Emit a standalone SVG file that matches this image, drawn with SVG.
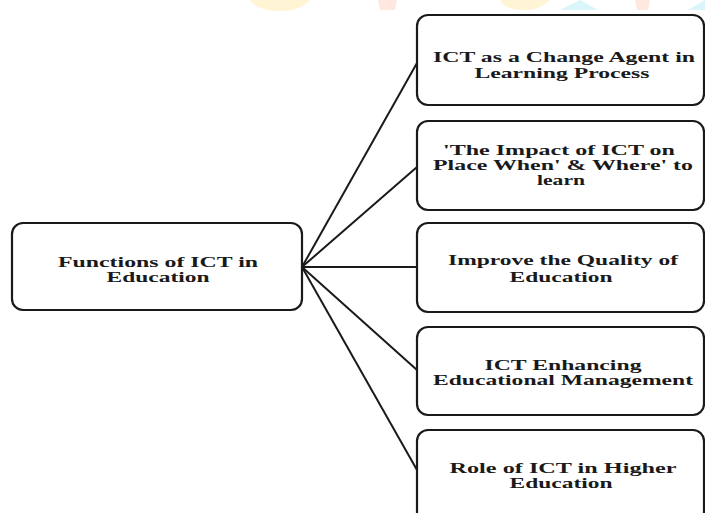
<svg xmlns="http://www.w3.org/2000/svg" width="705" height="513" viewBox="0 0 705 513">
<style>
.box{fill:#fff;stroke:#1a1a1a;stroke-width:2.2}
.t{font-family:"Liberation Serif","Times New Roman",serif;font-weight:bold;font-size:15px;fill:#1a1a1a;text-anchor:middle}
.c{stroke:#1a1a1a;stroke-width:2;fill:none}
</style>
<rect width="705" height="513" fill="#fff"/>
<g id="watermark" opacity="0.9">
<path d="M250 0 H310 Q300 11 280 11 Q258 11 250 0 Z" fill="#fff3cf"/>
<path d="M378 0 H397 L395 10 H380 Z" fill="#ffe6dc"/>
<path d="M500 0 H550 Q540 10 525 10 Q505 10 500 0 Z" fill="#fff3cf"/>
<path d="M560 10 L580 0 L598 10 Z" fill="#d8f6fa"/>
<path d="M635 0 H650 L648 10 H637 Z" fill="#ffe6dc"/>
<path d="M688 10 L705 0 V10 Z" fill="#d8f6fa"/>
</g>
<g id="connectors">
<line class="c" x1="302" y1="267" x2="417" y2="63"/>
<line class="c" x1="302" y1="267" x2="417" y2="167"/>
<line class="c" x1="302" y1="267" x2="417" y2="267"/>
<line class="c" x1="302" y1="267" x2="417" y2="370"/>
<line class="c" x1="302" y1="267" x2="417" y2="470"/>
</g>
<g id="center">
<rect class="box" x="12" y="223" width="290" height="87" rx="11"/>
<text class="t" x="158" y="267" textLength="200" lengthAdjust="spacingAndGlyphs">Functions of ICT in</text>
<text class="t" x="158" y="282" textLength="103" lengthAdjust="spacingAndGlyphs">Education</text>
</g>
<g id="n1">
<rect class="box" x="417" y="15" width="287" height="90" rx="11"/>
<text class="t" x="564" y="62" textLength="262" lengthAdjust="spacingAndGlyphs">ICT as a Change Agent in</text>
<text class="t" x="562" y="78" textLength="175" lengthAdjust="spacingAndGlyphs">Learning Process</text>
</g>
<g id="n2">
<rect class="box" x="417" y="121" width="287" height="89" rx="11"/>
<text class="t" x="559" y="155" textLength="232" lengthAdjust="spacingAndGlyphs">'The Impact of ICT on</text>
<text class="t" x="563" y="170" textLength="260" lengthAdjust="spacingAndGlyphs">Place When' &amp; Where' to</text>
<text class="t" x="561" y="185" textLength="48" lengthAdjust="spacingAndGlyphs">learn</text>
</g>
<g id="n3">
<rect class="box" x="417" y="223" width="287" height="89" rx="11"/>
<text class="t" x="563" y="265" textLength="230" lengthAdjust="spacingAndGlyphs">Improve the Quality of</text>
<text class="t" x="561" y="282" textLength="103" lengthAdjust="spacingAndGlyphs">Education</text>
</g>
<g id="n4">
<rect class="box" x="417" y="327" width="287" height="88" rx="11"/>
<text class="t" x="563" y="370" textLength="157" lengthAdjust="spacingAndGlyphs">ICT Enhancing</text>
<text class="t" x="563" y="385" textLength="260" lengthAdjust="spacingAndGlyphs">Educational Management</text>
</g>
<g id="n5">
<rect class="box" x="417" y="430" width="287" height="95" rx="11"/>
<text class="t" x="563" y="473" textLength="227" lengthAdjust="spacingAndGlyphs">Role of ICT in Higher</text>
<text class="t" x="561" y="488" textLength="103" lengthAdjust="spacingAndGlyphs">Education</text>
</g>
</svg>
